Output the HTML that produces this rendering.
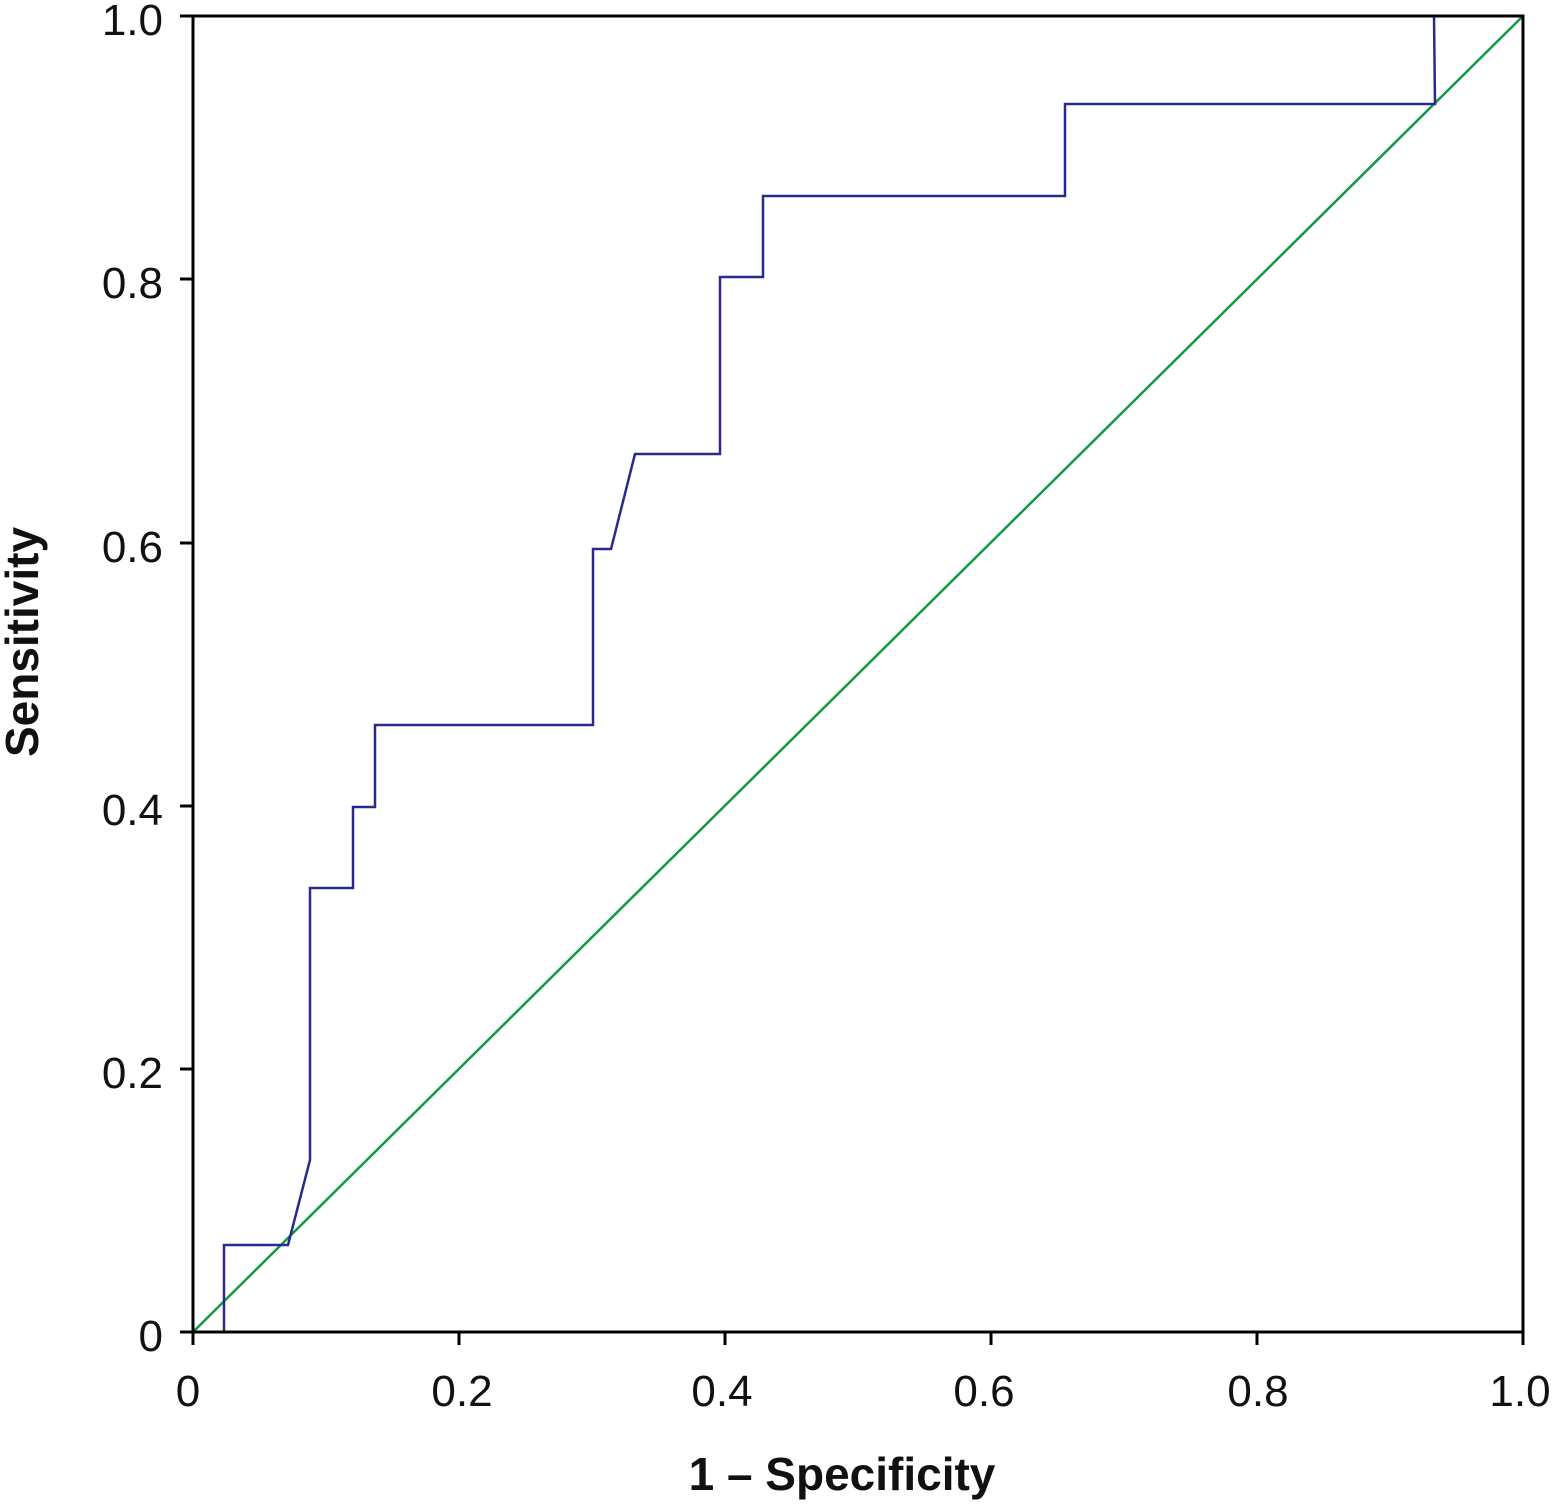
<!DOCTYPE html>
<html><head><style>body{margin:0;background:#fff}</style></head><body>
<svg width="1560" height="1504" xmlns="http://www.w3.org/2000/svg" font-family="'Liberation Sans', sans-serif">
<rect width="1560" height="1504" fill="#fff"/>
<line x1="193" y1="1332" x2="1523" y2="16" stroke="#119944" stroke-width="2.5"/>
<polyline fill="none" stroke="#2a2a8c" stroke-width="2.5" points="224,1332 224,1245 288,1245 310,1160 310,888 353,888 353,807 375,807 375,725 593,725 593,549 611,549 635,454 720,454 720,277 763,277 763,196 1065,196 1065,104 1435,104 1434,16"/>
<rect x="193" y="16" width="1330" height="1316" fill="none" stroke="#000" stroke-width="3"/>
<g stroke="#000" stroke-width="3">
<line x1="193" y1="1332" x2="193" y2="1345"/><line x1="459" y1="1332" x2="459" y2="1345"/><line x1="725" y1="1332" x2="725" y2="1345"/><line x1="991" y1="1332" x2="991" y2="1345"/><line x1="1257" y1="1332" x2="1257" y2="1345"/><line x1="1523" y1="1332" x2="1523" y2="1345"/>
<line x1="180" y1="16" x2="193" y2="16"/><line x1="180" y1="279" x2="193" y2="279"/><line x1="180" y1="543" x2="193" y2="543"/><line x1="180" y1="806" x2="193" y2="806"/><line x1="180" y1="1069" x2="193" y2="1069"/><line x1="180" y1="1332" x2="193" y2="1332"/>
</g>
<g font-size="44" fill="#111" text-anchor="middle">
<text x="188" y="1406">0</text><text x="462" y="1406">0.2</text><text x="722" y="1406">0.4</text><text x="984" y="1406">0.6</text><text x="1258" y="1406">0.8</text><text x="1520" y="1406">1.0</text>
</g>
<g font-size="44" fill="#111" text-anchor="end">
<text x="163" y="35">1.0</text><text x="163" y="298">0.8</text><text x="163" y="562">0.6</text><text x="163" y="825">0.4</text><text x="163" y="1088">0.2</text><text x="163" y="1351">0</text>
</g>
<text x="842" y="1490" font-size="46" font-weight="bold" text-anchor="middle" fill="#111">1 – Specificity</text>
<text transform="translate(38,642) rotate(-90)" font-size="46" font-weight="bold" text-anchor="middle" fill="#111">Sensitivity</text>
</svg>
</body></html>
